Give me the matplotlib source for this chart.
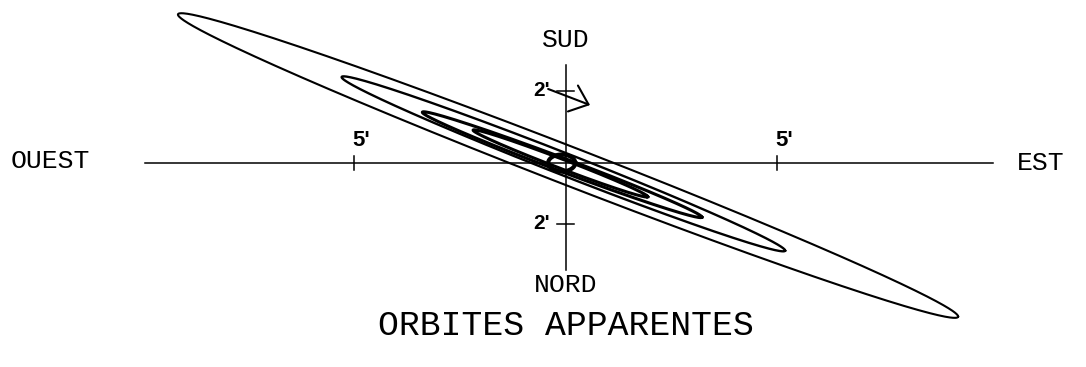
import numpy as np
import matplotlib
matplotlib.use("Agg")
import matplotlib.pyplot as plt

# apparent orbits, in arcmin (E to the right, S up)
ORBIT_CX = [0.06, -0.05, -0.08, -0.12, -0.09]
ORBIT_CY = [-0.06, -0.02, -0.04, -0.01, 0.0]
ORBIT_A = [9.89, 5.63, 3.53, 2.21, 0.32]      # semi-major
ORBIT_B = [0.45, 0.26, 0.16, 0.11, 0.20]      # semi-minor
ORBIT_TILT = [-21.2, -21.4, -20.6, -20.9, 0.0]  # degrees

EW_TICKS = [-5, 5]
EW_LABELS = ["5'", "5'"]
NS_TICKS = [1.70, -1.44]
NS_LABELS = ["2'", "2'"]
EW_EXTENT = [-9.94, 10.11]
NS_EXTENT = [-2.53, 2.32]

MOTION_FROM = (-0.41, 1.75)
MOTION_TO = (0.58, 1.37)

SCALE = 42.3   # px per arcmin
W, H = 1086, 367
X0, Y0 = 565.5, 163

fig = plt.figure(figsize=(W / 100, H / 100), dpi=100)
ax = fig.add_axes([0, 0, 1, 1])
ax.set_xlim(-X0 / SCALE, (W - X0) / SCALE)
ax.set_ylim(-(H - Y0) / SCALE, Y0 / SCALE)
ax.axis("off")

# cross
ax.plot(EW_EXTENT, [0, 0], color="black", lw=1.1)
ax.plot([0, 0], NS_EXTENT, color="black", lw=1.1)
for x, lab in zip(EW_TICKS, EW_LABELS):
    ax.plot([x, x], [-0.17, 0.17], color="black", lw=1.1)
    ax.text(x + 0.18, 0.53, lab, ha="center", va="center", fontsize=16,
            fontweight="bold", family="Liberation Sans")
for y, lab in zip(NS_TICKS, NS_LABELS):
    ax.plot([-0.19, 0.19], [y, y], color="black", lw=1.1)
    ax.text(-0.57, y + 0.02, lab, ha="center", va="center", fontsize=15,
            fontweight="bold", family="Liberation Sans")

# orbits
lws = [1.5, 1.7, 2.2, 2.2, 3.0]
t = np.linspace(0, 2 * np.pi, 600)
for cx, cy, a, b, tilt, lw in zip(ORBIT_CX, ORBIT_CY, ORBIT_A, ORBIT_B, ORBIT_TILT, lws):
    th = np.radians(tilt)
    x = cx + a * np.cos(t) * np.cos(th) - b * np.sin(t) * np.sin(th)
    y = cy + a * np.cos(t) * np.sin(th) + b * np.sin(t) * np.cos(th)
    ax.plot(x, y, color="black", lw=lw, solid_joinstyle="round")

ax.annotate("", xy=MOTION_TO, xytext=MOTION_FROM,
            arrowprops=dict(arrowstyle="->,head_length=0.6,head_width=0.5",
                            mutation_scale=20, lw=1.5, color="black",
                            shrinkA=0, shrinkB=0))

mono = "Liberation Mono"
ax.text(-12.19, 0.05, "OUEST", ha="center", va="center", fontsize=19, family=mono)
ax.text(11.24, 0.0, "EST", ha="center", va="center", fontsize=19, family=mono)
ax.text(0, 2.91, "SUD", ha="center", va="center", fontsize=19, family=mono)
ax.text(0, -2.88, "NORD", ha="center", va="center", fontsize=19, family=mono)
ax.text(0, -3.83, "ORBITES APPARENTES", ha="center", va="center", fontsize=25, family=mono)

fig.savefig("out.png", dpi=100)
